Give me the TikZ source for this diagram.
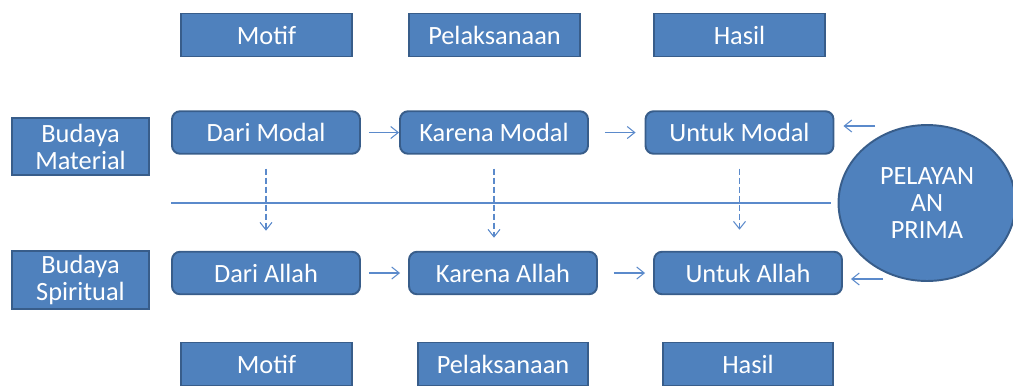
\documentclass[tikz,border=0pt]{standalone}
\usepackage{fontspec}
\setmainfont{Carlito}
\usetikzlibrary{arrows.meta,shapes.geometric}
\definecolor{boxfill}{HTML}{4F81BD}
\definecolor{boxline}{HTML}{385D8A}
\definecolor{linkcol}{HTML}{5B8ACB}
\tikzset{
  base/.style={fill=boxfill, draw=boxline, line width=1.1pt, text=white,
    inner sep=0pt, align=center, font=\fontsize{15}{15.4}\selectfont},
  headbox/.style={base, minimum width=3.42cm, minimum height=0.86cm},
  sidebox/.style={base, minimum width=2.74cm, minimum height=1.15cm},
  flowbox/.style={base, rounded corners=0.16cm, minimum width=3.76cm, minimum height=0.85cm},
  hubnode/.style={base, ellipse, minimum width=3.54cm, minimum height=3.12cm},
  link/.style={draw=linkcol, line width=0.6pt},
  arr/.style={link, -{Straight Barb[length=0.15cm, width=0.24cm]}},
  darr/.style={arr, dash pattern=on 0.12cm off 0.06cm}
}
\begin{document}
\begin{tikzpicture}[x=0.02cm, y=-0.02cm]
\useasboundingbox (0,0) rectangle (1013,386);

% column headings
\node[headbox] (m1) at (266.5,35) {Motif};
\node[headbox] (p1) at (494.5,35) {Pelaksanaan};
\node[headbox] (h1) at (739.5,35) {Hasil};

% material row
\node[sidebox] (bm) at (80.5,146.5) {Budaya\\Material};
\node[flowbox] (dm) at (266,132.5) {Dari Modal};
\node[flowbox] (km) at (494,132.5) {Karena Modal};
\node[flowbox] (um) at (739.5,132.5) {Untuk Modal};

% spiritual row
\node[sidebox] (bs) at (80.5,280) {Budaya\\Spiritual};
\node[flowbox] (da) at (266,273) {Dari Allah};
\node[flowbox] (ka) at (503,273) {Karena Allah};
\node[flowbox] (ua) at (748,273) {Untuk Allah};

% column footers
\node[headbox] (m2) at (266.5,364) {Motif};
\node[headbox, minimum width=3.4cm] (p2) at (503,364) {Pelaksanaan};
\node[headbox, minimum width=3.4cm] (h2) at (748,364) {Hasil};

% service ellipse
\node[hubnode] (pa) at (927,203) {PELAYAN\\AN\\PRIMA};

% horizontal arrows along each row
\draw[arr] ([xshift=0.16cm]dm.east) -- (km.west);
\draw[arr] ([xshift=0.32cm]km.east) -- ([xshift=-0.18cm]um.west);
\draw[arr] ([xshift=0.16cm]da.east) -- ([xshift=-0.16cm]ka.west);
\draw[arr] ([xshift=0.32cm]ka.east) -- ([xshift=-0.16cm]ua.west);

% arrows coming from the ellipse side
\coordinate (q1) at (875,126);
\coordinate (q2) at (883,279);
\draw[arr, shorten >=0.18cm] (q1) -- (q1 -| um.east);
\draw[arr, shorten >=0.16cm] (q2) -- (q2 -| ua.east);

% divider line
\draw[link] (dm.west |- pa) -- ([xshift=-0.14cm]pa.west);

% dashed arrows from material to spiritual
\draw[darr] ([yshift=-0.28cm]dm.south) -- ++(0,62);
\draw[darr] ([yshift=-0.28cm]km.south) -- ++(0,69);
\draw[darr] ([yshift=-0.28cm]um.south) -- ++(0,61);
\end{tikzpicture}
\end{document}
